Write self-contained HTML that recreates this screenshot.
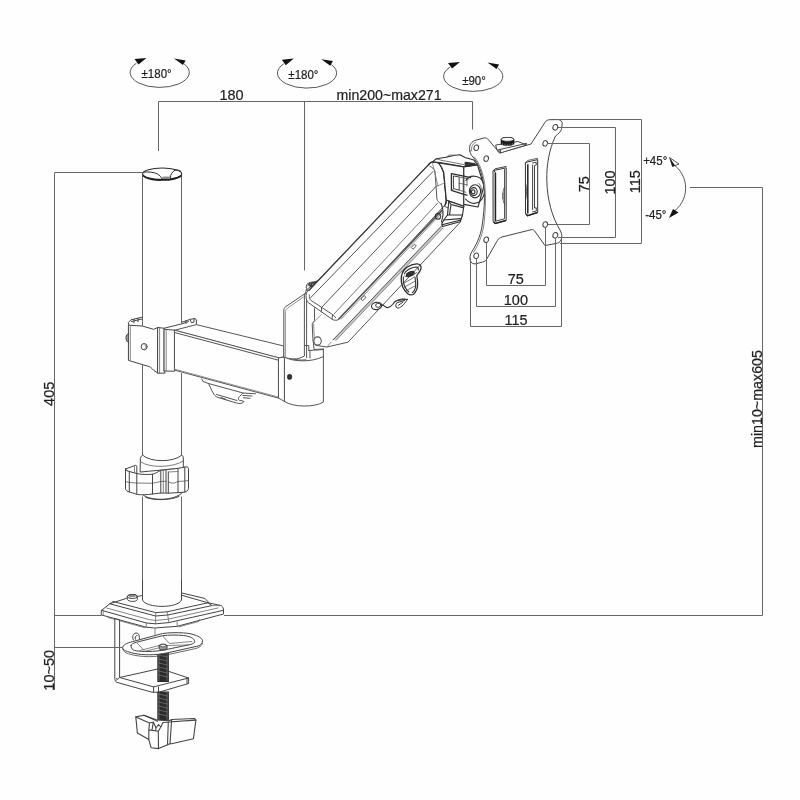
<!DOCTYPE html>
<html>
<head>
<meta charset="utf-8">
<title>Monitor arm dimensions</title>
<style>
html,body{margin:0;padding:0;background:#fefefe;}
body{width:800px;height:800px;overflow:hidden;font-family:"Liberation Sans",sans-serif;}
svg{display:block;filter:grayscale(1) blur(0.4px);}
.dim{fill:none;stroke:#666;stroke-width:1;}
.ln{fill:none;stroke:#555;stroke-width:1;stroke-linejoin:round;stroke-linecap:round;}
.lt{fill:none;stroke:#777;stroke-width:0.8;stroke-linejoin:round;stroke-linecap:round;}
.wf{fill:#fefefe;stroke:#555;stroke-width:1;stroke-linejoin:round;stroke-linecap:round;}
.hv{fill:none;stroke:#3a3a3a;stroke-width:1.4;stroke-linejoin:round;stroke-linecap:round;}
text{font-family:"Liberation Sans",sans-serif;fill:#1e1e1e;stroke:#1e1e1e;stroke-width:0.2;}
.t14{font-size:14.5px;}
.t11{font-size:11.5px;}
.dk{stroke:#2a2a2a !important;}
.dk .ln,.dk .wf{stroke:#2e2e2e;stroke-width:1.1;}
.dk .lt{stroke:#555;}
.md .ln,.md .wf{stroke:#444;}
.md .lt{stroke:#666;}
</style>
</head>
<body>
<svg width="800" height="800" viewBox="0 0 800 800">
<rect x="0" y="0" width="800" height="800" fill="#fefefe"/>

<!-- ===== DIMENSION LINES ===== -->
<g class="dim" id="dims">
<path d="M158.5,151 V101.5 H472.5 V129.5 M304.5,101.5 V270.5"/>
<path d="M142.5,172.5 H54.5 V690 M54.5,615.5 H101.5 M54.5,647.5 H122.5"/>
<path d="M690,187.5 H762.5 V615.5 H224"/>
</g>

<!-- ===== TEXT ===== -->
<g id="labels">
<text class="t14" transform="translate(231.5,100.2) scale(1,1.06)" text-anchor="middle">180</text>
<text class="t14" transform="translate(389,100.4) scale(0.978,1.06)" text-anchor="middle">min200~max271</text>
<text class="t11" transform="translate(156.6,78.4) scale(1,1.06)" text-anchor="middle">±180°</text>
<text class="t11" transform="translate(303.4,79.1) scale(1,1.06)" text-anchor="middle">±180°</text>
<text class="t11" transform="translate(474,84.8) scale(1,1.06)" text-anchor="middle">±90°</text>
<text class="t14" transform="translate(515.7,284.2) scale(1,1.06)" text-anchor="middle">75</text>
<text class="t14" transform="translate(515.9,304.9) scale(1,1.06)" text-anchor="middle">100</text>
<text class="t14" transform="translate(516.1,324.9) scale(1,1.06)" text-anchor="middle">115</text>
<text class="t14" transform="translate(589.2,184.2) rotate(-90) scale(1,1.06)" text-anchor="middle">75</text>
<text class="t14" transform="translate(614.8,182.5) rotate(-90) scale(1,1.06)" text-anchor="middle">100</text>
<text class="t14" transform="translate(639.9,181.7) rotate(-90) scale(1,1.06)" text-anchor="middle">115</text>
<text class="t11" transform="translate(655.2,164.8) scale(1,1.06)" text-anchor="middle">+45°</text>
<text class="t11" transform="translate(655.8,218.8) scale(1,1.06)" text-anchor="middle">-45°</text>
<text class="t14" transform="translate(54.3,393.8) rotate(-90) scale(1,1.06)" text-anchor="middle">405</text>
<text class="t14" transform="translate(54.3,670.3) rotate(-90) scale(1,1.06)" text-anchor="middle">10~50</text>
<text class="t14" transform="translate(762,399) rotate(-90) scale(0.985,1.06)" text-anchor="middle">min10~max605</text>
</g>

<!-- ===== ROTATION SYMBOLS ===== -->
<defs>
<g id="rot">
<path d="M-23,-9.4 A29.6,15 0 1 0 24.6,-8.6" fill="none" stroke="#444" stroke-width="0.9"/>
<path d="M-13,-14.6 L-25,-13.5 L-21,-8 Z" fill="#111"/>
<path d="M14.5,-14 L26.1,-12.1 L23.5,-7.5 Z" fill="#111"/>
</g>
</defs>
<use href="#rot" x="159.5" y="72.5"/>
<use href="#rot" x="306.8" y="73.2"/>
<use href="#rot" x="473" y="76.5"/>
<g id="tilt">
<path d="M672,163.5 A29,29 0 0 1 671.5,213" fill="none" stroke="#444" stroke-width="0.9"/>
<path d="M669.6,157.6 L679,164 L672.5,166.5 Z" fill="#fefefe" stroke="#222" stroke-width="0.8"/>
<path d="M669.6,157.6 L675,165.5 L672.5,166.5 Z" fill="#111"/>
<path d="M669,218 L673,209 L678.5,212.5 Z" fill="#111"/>
</g>

<!-- ===== DRAWING ===== -->
<g id="drawing">
<!--POLE-->
<g id="pole">
<path class="ln" style="stroke:#666" d="M142.5,174 V325.5 M181.5,174 V322.5 M142.5,364.5 V456 M181.5,373.5 V456 M142.5,497 V602 M181.5,497 V602"/>
<ellipse cx="162.2" cy="173.8" rx="19.6" ry="5.8" fill="#fefefe" stroke="#2a2a2a" stroke-width="1.1"/>
<path d="M143,175.5 C147,179.5 156,180.3 162,180 C170,180 178,178.5 181.5,175.5" fill="none" stroke="#1e1e1e" stroke-width="1.7"/>
<path d="M143.5,172.2 C148,171.6 154,172 157.5,174 C160,175.5 161.3,177.2 161.6,178.6 M170.5,177.8 C170.2,174.5 172.5,171.5 175,170.3 C177.5,169.8 179.5,170.3 181,171.5 M161.6,178.6 L170.5,178.2" fill="none" stroke="#2a2a2a" stroke-width="1"/>
<path d="M162.5,176.6 H170 V179 H162.5 Z" fill="#888"/>
</g>
<!--CLAMP-->
<g id="clamp" class="md">
<!-- back tabs -->
<path class="ln" d="M128.8,325 L128.3,322.5 L131,319.8 L141.5,317.3 M131.5,321.5 L142,319 M134,319.2 V322.8 M138,318.2 V321.8"/>
<path class="ln" d="M181.5,322.3 L190.5,319.3 L194,318.6 C196,318.6 196.6,319.5 196.4,321 V324.6 M164.3,328.2 L182,323.8 L188.5,321.6 M186,320.8 V323.4 M190,319.5 L191.5,322.8 L194,322 V319"/>
<!-- front face -->
<path class="wf" d="M128.8,325.2 L142.3,326 L153.5,329.3 L158,327.5 V373.2 L153.5,370.2 C151.5,368 150.5,367 149.5,366.7 L128.8,360.5 Z"/>
<path class="lt" d="M130.3,326.5 V359.8"/>
<!-- knob on left -->
<path class="ln" d="M128.8,333.5 C125.2,334 124.6,341 128.8,342.5 M127,335 V341"/>
<!-- hole -->
<ellipse class="ln" cx="144.2" cy="346.7" rx="3" ry="3.2"/>
<path class="lt" d="M144.6,344.8 C146.4,345.6 146.4,348 144.8,348.8"/>
<!-- strip -->
<path class="wf" d="M158,327.5 L164.3,328.3 V373.2 L158,373.2 Z"/>
<path class="lt" d="M159.6,328 V373"/>
<!-- inner face -->
<path class="wf" d="M164.3,329.3 L174.8,330.2 V371.2 L164.3,371 Z"/>
<path class="lt" d="M166.2,329.6 V371 M164.3,371 L165.5,373.2"/>
</g>
<!--HARM-->
<g id="harm">
<!-- top surface -->
<path class="wf" d="M174.8,330.2 L196.3,324.6 L283.7,346 L283.8,357 L278.8,357.8 Z"/>
<!-- front face -->
<path class="wf" d="M174.8,330.2 L278.8,357.8 V398.2 L174.8,370.2 Z"/>
<path class="ln" d="M174.8,332.6 L278.8,360.3"/>
<path class="lt" d="M174.8,369.2 L278.8,397.2"/>
<!-- cable clip under arm -->
<path class="ln" d="M201.8,379 L203,381.5 L208.5,383.5 C211,388 212.5,394 216.5,397 L236.5,403 C239.5,404 243,403.5 244,401.5 L241,400.5 C238.5,401 237.5,398.5 239.5,396.5 L243,393 L255.5,393.8 M208.5,383.5 L243,393 M243,395.5 L252,396 M243.5,397.8 L250,398.3 M216.5,394.5 L237,400.5 M221,397.5 L226,399.5" />
<!-- end strip -->
<path class="wf" d="M278.8,357.8 L284.7,357 V401.6 L278.8,398.2 Z"/>
<!-- cylinder -->
<path class="wf" d="M284.7,357 C292,362 312,362.5 323.4,356.5 V402 C315,407.5 293,407.5 284.7,401.6 Z"/>
<path class="ln" d="M284.7,355.6 C292,360 300,360.5 306,359.8"/>
<ellipse cx="289.6" cy="376.9" rx="2.3" ry="2.6" fill="#333" stroke="#222" stroke-width="0.6"/>
</g>
<!--PIVOT-->
<g id="pivot">
<path class="wf" d="M283.8,357 V309.6 C284.5,307.5 285.2,306.8 286.3,306.3 L304.4,294 V356 C298,360 290,359.5 283.8,357 Z"/>
<path class="lt" d="M285.4,356.5 V311.3 C286,309.3 286.8,308.5 287.8,308 L303.5,297"/>
<path class="ln" d="M306.6,294 V345.5 M304.4,345.5 H308.8 V350.5 M313.5,343.5 L314,349.5 L323.4,349 M308.8,350.5 L323,349.6 M306.6,345.5 V357.5 M310,350.5 V358 M323.4,349 V356.5"/>
<!-- nub at top -->
<path class="ln" d="M304.4,294 L306.3,293.5 M305.5,293.5 L306.5,288.5 C306,286.5 306.3,284.8 307.5,283.8 C309,282.5 311.5,281.8 313.5,282 L319.5,280.3 M307.5,286 C308.5,284.5 310.5,284 311.8,284.8 M306.8,289.5 L309.5,287.5 M307.5,283.8 L310.5,286.5 M306.5,290.5 L309,290"/>
<path d="M308.5,283.2 L319.5,280.3 L312.5,286.8 L310,287.5 Z" fill="#3a3a3a"/>
<path d="M309.8,284.3 l1.2,-0.4 M312,284.8 l1.5,-1" stroke="#ddd" stroke-width="0.6"/>
</g>
<!--ARM-->
<g id="arm">
<!-- lower arm body (behind cover) -->
<path class="wf" d="M314.5,309 V320.5 L312.2,323.8 L313,341.5 C313.8,344.5 315.5,345.3 317.5,345.6 L326.9,347 L348,342.2 L460,222.5 L462.5,215 L444,206 L335,318 L325,308 L316,306 Z"/>
<path class="lt" d="M313.6,324 L314.6,342.5 M313,322.8 L321.3,314.5"/>
<!-- lower arm lines -->
<path d="M334.6,340 L442,227.2" stroke="#c8c8c8" stroke-width="2.6" fill="none"/>
<path class="ln" d="M333,340 L441,226.5"/>
<path class="lt" d="M336.3,340 L443,228"/>
<path class="lt" d="M326.9,347 L331,342.3"/>
<!-- pin -->
<ellipse class="wf" cx="317.6" cy="341" rx="3.7" ry="4.1" style="stroke-width:1.1"/>
<!-- small rectangles on lower arm -->
<path class="ln" d="M361.2,298.6 L364.2,295.6 L366,297.4 L363,300.4 Z M411.5,247.2 L414.5,244.2 L416.3,246 L413.3,249 Z"/>
<!-- cable clip on arm -->
<g fill="none" stroke="#333" stroke-width="1.1" stroke-linecap="round" stroke-linejoin="round">
<ellipse cx="376.6" cy="305.9" rx="5.2" ry="3.6" transform="rotate(-12 376.6 305.9)"/>
<ellipse cx="378.2" cy="305.3" rx="2.6" ry="2" transform="rotate(-12 378.2 305.3)" style="stroke-width:0.9"/>
<path d="M381.6,304.6 C383.5,305.2 385,307 387,307.6 C389.5,308 391,306.5 392.5,304.5 C394,302.3 395.5,300.8 397.5,300.4 L407.5,299.3"/>
<path d="M397.5,300.4 C400,299 403,298.6 405,299 M396.8,303 C395.3,304.8 395.3,307.3 397.3,308 C400,308.5 403.5,305.5 407.5,299.3 M398.5,305.2 L403,302.2 M397.5,302.5 L404.5,300.5" style="stroke-width:1"/>
</g>
<g class="dk"><!-- cable hook -->
<path class="ln" d="M402.2,273.5 C403.5,268.5 410,264.5 416.5,263.8 C420,263.6 421.5,266 421,268.6 C420.5,271 418.5,273 416.8,275.5 C417.3,278.5 417.8,282 417.6,285 C417.4,289 416,292 413.5,294.2 C411.5,295.3 409.5,295 407.8,293.8 C403.5,290 401,284 401.2,278.5 C401.3,276.5 401.6,275 402.2,273.5 Z" style="stroke-width:1.3"/>
<path class="ln" d="M404.5,273.8 C405.5,270.5 411,267.3 416,267 C418.3,267 418.8,268.5 418.2,270 M403.3,277 C402.8,282.5 405,288.5 408.8,292 M415,277 C415.5,280.5 416,283.5 415.6,287 C415.2,289.5 414,291.5 412.3,292.6"/>
<ellipse cx="410.3" cy="273.8" rx="4.2" ry="1.9" transform="rotate(-24 410.3 273.8)" fill="#333"/>
<path class="ln" d="M404.8,276.2 C407.5,277.8 413,276 416.5,272.5" style="stroke-width:0.9"/>
<path class="lt" d="M403.5,283.5 L414.5,277 M404.5,287 L415.5,281 M406.5,290.5 L415.8,285.5"/></g>
<!-- upper cover -->
<path class="wf" d="M307.8,291.2 L428.8,164.4 C430,162.5 431.5,161.8 433,161.9 C435.5,161.9 437.5,162.3 438.8,163 C441,165.5 442.5,168.5 443.8,172.5 L446.3,200 C446.3,202.5 446,204 445,205 L339.5,318.8 C337.5,320.8 334,320.8 331.8,319 L308.1,302.5 C306,300.5 305.6,296 306.3,293.5 Z"/>
<path class="hv" d="M309,290.2 L428.8,164.4" style="stroke-width:1.3"/>
<path class="hv" d="M339,318.8 L441.8,210.6" style="stroke-width:1.6;stroke:#555"/>
<path class="lt" d="M341.3,319 L443.2,211.6"/>
<!-- cover inner lines -->
<path class="ln" d="M310.8,297.5 L433,171.5"/>
<path class="ln" d="M321.6,307.4 L436,186.5"/>
<path class="ln" d="M334,314 L437.5,203.3" style="stroke-width:0.8"/>
<!-- cover lower-left end bevel -->
<path class="ln" d="M309.3,295 C309.3,297.5 309.8,299.3 310.8,300.3 L332.5,314.5 C333.8,315.5 334.8,316.5 335.5,317.5 M321.6,307.4 L321.3,311.9 M332.5,314.5 L332.1,319"/>
<!-- cover end -->
<path d="M428.8,164.4 C430,162.5 431.5,161.8 433,161.9 C435.5,161.9 437.5,162.3 438.8,163 C441,165.5 442.5,168.5 443.8,172.5 L446.3,200 C446.3,202.5 446,204 445,205" fill="none" stroke="#2a2a2a" stroke-width="1.5" stroke-linecap="round"/>
<path class="ln" d="M430,166.3 C432.5,167.5 434,169 435,171.3 L436.9,198.8 C437.5,201 439,202.8 441.3,203.8"/>
<path class="lt" d="M432.3,162 L438,186 M436,186.5 L444.5,183"/>
</g>
<!--HEAD-->
<g id="head" class="dk">
<!-- top of block -->
<path class="wf" d="M432.5,161.9 L436.3,158.8 L446,157.2 L455,155.3 L460,154.8 L465,157.5 L473.8,160 L477.5,165 L463.8,166.9 L440,162.5 Z"/>
<path class="lt" d="M436.3,158.8 L441,160.2 L463.8,164.6 M446,157.2 L450,155 L455,155.3"/>
<!-- front face of block -->
<path class="wf" d="M438.8,163 L463.8,166.9 V206.3 L446.3,200 L443.8,172.5 C442.5,168.5 441,165.5 438.8,163 Z"/>
<!-- right face -->
<path class="wf" d="M463.8,166.9 L477.5,165 L484,186 L478,207 L463.8,204.4 Z"/>
<path d="M465,162.2 L475,163.6 L475.5,165.2 L465.2,166.4 Z" fill="#333"/>
<!-- window -->
<path class="ln" d="M451.4,173.6 L463.8,176.2 L470.5,177.6 M451.4,173.6 V190.3 L463.8,194.3 L467,195.2" style="stroke-width:1.3"/>
<path class="ln" d="M453.8,176 L459.2,177 V190.2 L453.8,188.6 Z" style="stroke-width:0.9"/>
<path class="lt" d="M459.2,177 L469,179 M459.2,183.3 L467,184.8 M459.2,190.2 L466,192.3 M463.2,178 V192 M453.8,188.6 L451.4,190.3 M467,179 V186"/>
<!-- ball joint -->
<path class="ln" d="M466,180.5 C469,174.5 479.5,174.5 483.3,182 C486.5,189 484.5,198.5 478.5,202.3 C474,204.5 468.5,203 465.5,199"/>
<ellipse class="ln" cx="475" cy="191.3" rx="5.6" ry="6.6"/>
<ellipse class="ln" cx="473.8" cy="191.6" rx="3.4" ry="4"/>
<ellipse class="ln" cx="473.2" cy="191.8" rx="1.7" ry="2.1"/>
<path class="lt" d="M478.5,183 C481.5,185.5 482.5,191 481,196.5"/>
<!-- lower bracket -->
<path class="wf" d="M448.8,201.3 L463.8,206.3 L462.5,215 L460,221.8 L442.5,226.5 L441.8,223.8 L443.8,220 L447.5,215 Z"/>
<path class="ln" d="M447.5,215 L462.5,215 M443.8,220 L460.5,218.6 M442,224.8 L460,220.2 M448.8,201.3 L451,204.5 L449.5,214.8 M451,204.5 L463,207.6"/>
<ellipse class="ln" cx="438" cy="216.3" rx="2.6" ry="3"/>
<path class="lt" d="M439.6,214 C441,215.5 441,217.8 439.8,218.8"/>
<path class="ln" d="M441.3,203.8 C442.5,207 443.3,211 443,215 L441.5,222"/>
</g>
<!--VESA-->
<g id="vesa" class="md">
<path class="wf" d="M469.8,151 C468.8,146 470.5,142.5 474.5,140.6 L483.8,138 C486,137.6 487.2,138.2 488.5,139.8 L499.5,152.9 L531,144 L545,122.3 C546.5,120.3 548,119.8 550,119.7 L558,119.6 C561,119.8 562.3,121.5 562.2,124 L561.6,128.5 C561,131.5 558.5,134 555.5,136 C549,150 546.5,165 546.8,180 C547.2,200 552,217 560.5,231 C562,234 562.3,237 561,240 C560,242.5 558,243.3 555.5,243.5 L545,245.6 L534.5,230.8 C533,229.2 531.5,229.5 530,230 L502,237 C499.5,238 498.5,238.8 497.5,240.3 L486.5,259.5 C485.5,261 484.5,261.5 482.5,262 L476,263.8 C473,264.3 471,263 470.3,260.5 C469.5,257.5 470,254.5 472,251.5 C478,242 481.5,233 482.6,222 C484.5,208 485,195 483.8,185 C482,172 478.5,163.5 473,157 C471,155 470.2,153 469.8,151 Z"/>
<path class="lt" d="M471.5,150.8 C471,147 472.5,143.8 475.5,142.3 M474.5,157 C480,164 483.2,173 484.8,185 C486,196 485.5,209 484.2,222 C483,233 479.5,243 473.5,252.5"/>
<!-- holes -->
<g class="ln">
<ellipse cx="476.3" cy="147.8" rx="2.3" ry="2.8" transform="rotate(15 476.3 147.8)"/>
<ellipse cx="486.2" cy="158.6" rx="2.3" ry="2.8" transform="rotate(15 486.2 158.6)"/>
<ellipse cx="555.3" cy="127.3" rx="2.4" ry="2.9" transform="rotate(15 555.3 127.3)"/>
<ellipse cx="545.2" cy="143.4" rx="2.3" ry="2.8" transform="rotate(15 545.2 143.4)"/>
<ellipse cx="545.2" cy="224.5" rx="2.3" ry="2.8" transform="rotate(15 545.2 224.5)"/>
<ellipse cx="555.3" cy="235.3" rx="2.4" ry="2.9" transform="rotate(15 555.3 235.3)"/>
<ellipse cx="486.2" cy="239.7" rx="2.3" ry="2.8" transform="rotate(15 486.2 239.7)"/>
<ellipse cx="476.2" cy="255.8" rx="2.3" ry="2.8" transform="rotate(15 476.2 255.8)"/>
</g>
<!-- left slot -->
<path class="ln" style="stroke:#333" d="M493.4,170.6 L506.2,167.8 V220.4 L495,223.6 L493.4,222 Z"/>
<path d="M495.4,172.6 V221.2" stroke="#222" stroke-width="1.6" fill="none"/>
<path class="ln" d="M495.4,172.6 L494.2,171 M495.4,221.2 L504.6,218.8 V169.5 M493.4,170.6 L495,168.8 L506.2,166.5" />
<path class="ln" d="M504.6,187 C502.2,190.5 502,200.5 504.6,204.5 M503,193 V199" style="stroke-width:0.8"/>
<path d="M493.6,221.8 L495.2,223.4 L506,220.5" stroke="#222" stroke-width="1.4" fill="none"/>
<!-- right slot -->
<path class="ln" style="stroke:#333" d="M525.8,162.4 L537.7,159.6 V212.4 L527.5,215.8 L525.8,214.2 Z"/>
<path d="M527.8,164.2 V213.4" stroke="#222" stroke-width="1.5" fill="none"/>
<path class="ln" d="M532.6,163 L536.2,162.2 L536.3,165 L534.5,165.6 V208 L536.3,207.8 V211 L532.6,211.9 M532.6,165 V209.5"/>
<path class="ln" d="M525.8,162.4 L527.5,160.5 L537.7,158.2 M527.8,182 C526,186 526,197 527.8,201" style="stroke-width:0.8"/>
<path d="M526,214 L527.6,215.6 L537.5,212.5" stroke="#222" stroke-width="1.4" fill="none"/>
<!-- knob bracket -->
<path class="wf" d="M496,145 L517.9,141.5 L526.6,145 L500.4,152.9 L497.3,150.2 Z"/>
<path class="ln" d="M497.3,150.2 L500.8,149.3 L526.6,143.4 M500.8,149.3 L500.4,152.9"/>
<ellipse class="lt" cx="499" cy="151" rx="1.3" ry="1.1"/>
<!-- knob -->
<path d="M500.7,139.5 C500.7,136.2 514.3,136.2 514.3,139.5 V143.5 C514.3,146.6 500.7,146.6 500.7,143.5 Z" fill="#1c1c1c"/>
<ellipse cx="507.5" cy="139.3" rx="6.3" ry="1.9" fill="#fefefe" stroke="#222" stroke-width="0.6"/>
<path d="M502.5,143 V145 M505,143.6 V145.6 M507.5,143.8 V145.8 M510,143.6 V145.6 M512.5,143 V145" stroke="#999" stroke-width="0.5"/>
</g>
<!--COLLAR-->
<g id="collar" class="md">
<!-- ring -->
<path class="wf" d="M140.5,458 C141,456.5 141.8,455.5 142.5,455 C150,462.5 174,462.5 181.8,455 C182.6,455.5 183.2,456.5 183.3,458 V468 L140.5,472 Z"/>
<path class="ln" d="M141,462 C150,468.5 174,467.5 183.2,461" style="stroke-width:0.7"/>
<!-- bottom ring -->
<path class="ln" d="M142.5,494.5 C150,501.5 175,501 182.5,492.5 M146,497.5 C154,500.5 170,500.5 179,496.5" />
<!-- clip back piece -->
<path class="wf" d="M125.5,469 L135.5,465.3 C136.5,465.2 136.8,466 136.8,467 V474 L128.5,471.5 Z"/>
<path class="lt" d="M134.5,466 V473.5"/>
<!-- clip body -->
<path class="wf" d="M125.5,469 C125.5,470 127,471 128.5,471.3 L137,473.6 C142,474.6 148,474.6 152.5,474.2 C156,473.5 158,471.5 160.5,470.5 C166,469.5 178,468.8 184,467.2 C186.5,466.5 188.3,466.8 188.5,468.5 V488.5 C188.3,490.5 186.5,491.6 184.5,492.2 L168.3,493.2 L160.8,493 L152.5,494 C147,494.8 141,495 137.5,494.5 L128,491.5 C126,490.8 125.5,489.8 125.5,488.5 Z"/>
<path class="ln" d="M129.3,471.6 V491.8 M136.8,473.6 V494.3 M152.5,474.2 V494 M160.8,470.5 V493 M166,469.6 V492.5 M168.3,472 V493.2 M178,468.8 V492.4 M184.8,467.2 V492"/>
<path class="ln" d="M125.5,481.5 L129.3,482.5 L136.8,483 L152.5,483.3 L160.8,481.5 L166,481.2 M168.3,481.8 L171,483 L174.5,483 L178,481.5 L184.8,481 L188.5,480.5" style="stroke-width:0.7"/>
<path class="lt" d="M168.3,472 L178,471.5 M163.3,470 V492.8"/>
</g>
<!--BASE-->
<g id="base" class="md">
<!-- outer plate -->
<path class="wf" d="M101.6,610.3 L109.7,603.8 L127.5,598 L142.5,595.5 L181.9,595.3 L208,602.8 L221.3,605.6 C223,607 223.6,608.5 223.5,610.3 V614 L177.2,626.3 L154.7,628 L146.3,627.2 L101.6,615 Z"/>
<!-- plate thickness edge -->
<path class="ln" d="M101.6,610.3 L146.3,623 L155.6,623.8 L168.8,622.6 L223.5,610.3" />
<path class="lt" d="M103.2,611 V615.4 M146.3,623 V627.2 M177.2,621.8 V626.3"/>
<!-- inner raised -->
<path class="ln" d="M109.7,603.8 L155.6,616 L167.8,615 L211.9,605.6 L208,602.8"/>
<path class="ln" d="M113,601.5 L155.8,612.6 L167,611.8 L208.8,602.6 L205,598.5 L181.9,593"/>
<path class="lt" d="M155.6,616 L155.8,612.6 M167.8,615 L167,611.8 M155.6,616 L155.6,623.8 M167.8,615 L168.8,622.6 M211.9,605.6 L221.3,605.6 M109.7,603.8 L113,601.5"/>
<path class="lt" d="M106.5,608 L150,619.8 L156,620.4 L168,619.2 L218,608"/>
<!-- pole bottom -->
<path d="M142.5,580 V600 C146,608.5 178,608.5 181.5,600 V580 Z" fill="#fefefe" stroke="none"/>
<path class="ln" d="M142.5,580 V600 C146,608.5 178,608.5 181.5,600 V580"/>
<!-- slots under plate -->
<path class="lt" d="M108,617.5 L145,627.8 M179,626.8 L199,621.4 L199.5,619.6"/>
<!-- bolt -->
<path class="wf" d="M127.3,596.5 C127.3,593.8 137.3,593.8 137.3,596.5 V599.3 C137.3,602.2 127.3,602.2 127.3,599.3 Z"/>
<ellipse class="ln" cx="132.3" cy="596.5" rx="5" ry="2"/>
<path class="lt" d="M129.5,596.6 H135 M130,595.6 H134.6"/>
</g>

<g id="cclamp" class="md">
<!-- vertical bar -->
<path class="wf" d="M114.8,619 V678.5 C115,680.5 115.6,681.5 116.3,682.2 L152,692.2 L158.5,692.3 L188.6,683.5 V678 L160,668.5 L119.6,677.5 V620.5 Z"/>
<path class="ln" d="M119.6,677.5 L153.6,686.9 L188.6,678 M153.6,686.9 V692.2 M158.5,687 V692.3 M116.3,678.5 C116.5,679.5 117.5,680 119.6,677.5 M187,678.5 V683.8"/>
<path class="lt" d="M119.6,677.5 L116,680.5"/>
<!-- upper screw -->
<rect x="157.3" y="652" width="11.6" height="30" fill="#2b2b2b"/>
<path d="M158.5,655 l9,2 M158.5,659 l9,2 M158.5,663 l9,2 M158.5,667 l9,2 M158.5,671 l9,2 M158.5,675 l9,2 M159,653 v28 M167,653 v28" stroke="#9a9a9a" stroke-width="0.5" fill="none"/>
<!-- lower screw -->
<rect x="157.3" y="691.5" width="11.6" height="29.5" fill="#2b2b2b"/>
<path d="M158.5,694 l9,2 M158.5,698 l9,2 M158.5,702 l9,2 M158.5,706 l9,2 M158.5,710 l9,2 M158.5,714 l9,2 M159,692 v28 M167,692 v28" stroke="#9a9a9a" stroke-width="0.5" fill="none"/>
<!-- pad -->
<path class="wf" d="M122.5,647.6 C122.8,645 126.5,643.3 132.3,641.7 L162.5,633.5 C169,632.6 177,632.5 183.5,632.9 C189,633.3 193.5,634.3 196.6,635.7 C200.5,637.3 202.6,639 202.5,641 C202.3,643 201,644.5 199.2,645.6 C197.5,646.3 196,646.6 194,646.9 L167.7,652.8 C162,654 155,654.8 149.4,654.8 C144,654.8 139,654.4 134.9,653.5 C130.5,652.6 128,651.8 125.7,650.8 C123.5,649.8 122.4,648.8 122.5,647.6 Z"/>
<path class="ln" d="M122.6,648.8 C123,651 125,652.6 128.5,653.8 C134,655.6 142,656.7 149.4,656.7 C155,656.6 162,655.8 168,654.6 L194.5,648.8 C199,647.8 202,645.8 202.6,643" style="stroke-width:0.8"/>
<path class="ln" d="M131,645.6 C131.2,644.2 133,643.2 136.2,642.3 L162.5,635.7 C169,634.9 177,634.9 183.5,635.5 C188,636 191,637 192.7,638.4 C194.5,639.6 195,641 194.6,642.3 C194,643.5 191.5,644.3 188.7,644.9 L166.4,649.5 C160,650.8 154,651.5 148,651.5 C143.5,651.5 139.5,651.3 136.2,650.8 C133.5,650.3 132,649.3 131.6,648.2 C131.1,647.3 130.9,646.4 131,645.6 Z"/>
<path class="lt" d="M137,643 L144.5,650.8 M162.5,635.7 L169.5,643.5 L192,641.5 M140,650.5 L158,645.8 L188.7,644.9 M146,651 L157.5,648.2"/>
<!-- nut on pad -->
<path d="M159,645.8 C159,643.6 167,643.6 167,645.8 V648.3 C167,650.6 159,650.6 159,648.3 Z" fill="#999" stroke="#222" stroke-width="0.9"/>
<ellipse cx="163" cy="645.6" rx="2.8" ry="1.3" fill="#eee" stroke="#222" stroke-width="0.6"/>
<!-- tab behind pad -->
<path class="ln" d="M133.5,640 C131.5,637 133,633.5 136,633 C138.5,633 139.5,635 139.3,637.5 L139.5,638.6 M135.5,639.3 C134.5,637.5 135.5,635.5 137,635.5"/>
<!-- back vertical line -->
<path class="lt" d="M155,628.3 V634.5"/>
<g class="dk"><!-- knob -->
<path class="wf" d="M135.8,716.9 L143.9,715.3 L157,720 L169.5,720.8 L171.5,719.5 L194.3,718.5 L195.9,720.1 L193.4,738.8 L171.5,743.7 L169.9,743.7 L158.5,748.6 L151.2,747.8 L148.8,739.6 L137.4,733.1 Z"/>
<path class="ln" d="M135.8,716.9 L149.5,723 L153.3,722 L156,728 L158.5,724.5 L160.8,727 L163,722.5 L171.5,721.8 L195.9,720.1 M148.8,729.9 L149.5,723 M148.8,729.9 L148.8,739.6 M148.8,729.9 L158.3,731.3 L160.8,727 M158.3,731.3 L158.5,748.6 M171.5,721.8 L170,743.7 M168.3,722 L167.5,744.7 M143.9,715.3 L157.5,721.3 M153.3,722 L152,730.3 M156,728 L155.5,730.8 M171.5,719.5 L171.5,721.8 M173,721.7 L194,720.3"/>
</g>
</g>
</g>
<g class="dim" id="vdims">
<path d="M112,647.5 H123"/>
<path d="M486.5,242.5 V285.5 H545.5 V227.5"/>
<path d="M476.5,258.5 V306.5 H555.5 V238.5"/>
<path d="M470.5,258 V326.5 H561.5 V238"/>
<path d="M547.5,143.5 H589.5 V224.5 H547.5"/>
<path d="M558,127.5 H615.5 V237.5 H558"/>
<path d="M556,119.5 H641.5 V243.5 H560"/>
</g>
</svg>
</body>
</html>
